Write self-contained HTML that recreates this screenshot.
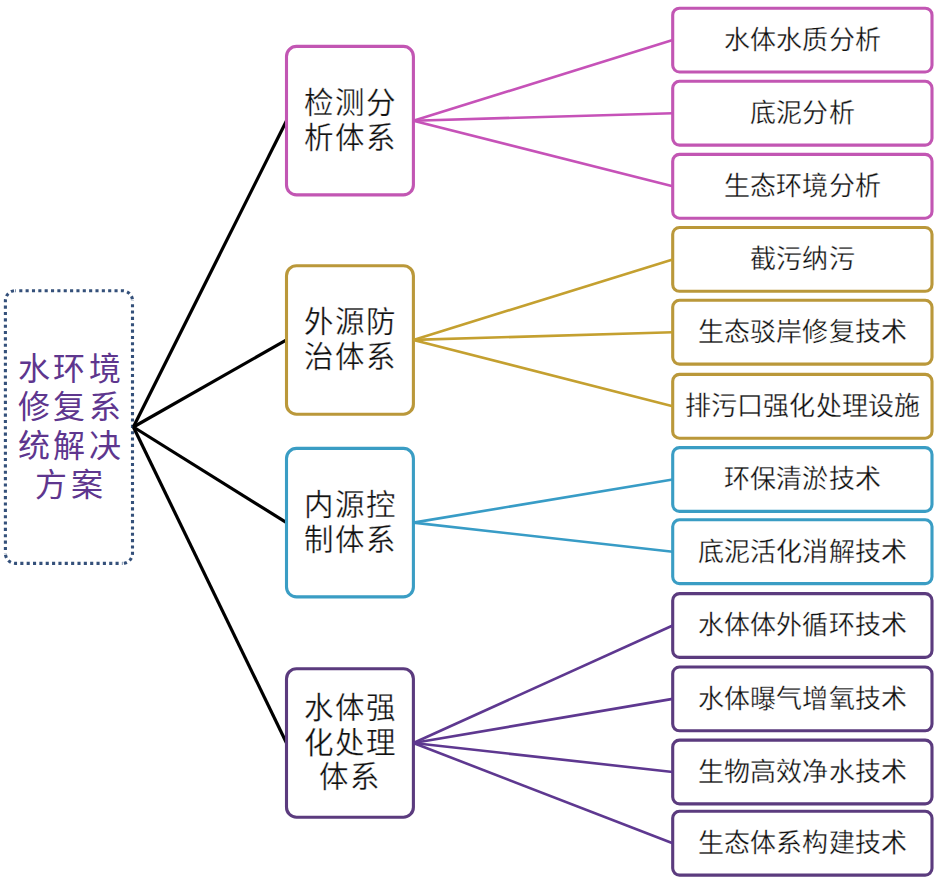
<!DOCTYPE html>
<html lang="zh-CN"><head><meta charset="utf-8"><title>水环境修复系统解决方案</title>
<style>
html,body{margin:0;padding:0;background:#fff;}
body{width:942px;height:882px;overflow:hidden;position:relative;font-family:"Liberation Sans",sans-serif;}
svg{position:absolute;left:0;top:0;}
.t{position:absolute;display:flex;align-items:center;justify-content:center;text-align:center;color:#111;-webkit-text-stroke:0.3px #fff;box-sizing:border-box;white-space:nowrap;}
.lt{-webkit-text-stroke:0;font-size:32px;line-height:38.6px;color:#5E368E;letter-spacing:3.5px;padding-left:3.5px;}
.mt{font-size:29.5px;line-height:34.8px;letter-spacing:1px;padding-left:1px;}
.rt{font-size:26px;line-height:30px;letter-spacing:0.2px;padding-left:0.2px;}
</style></head><body>
<svg width="942" height="882" viewBox="0 0 942 882">
<rect x="5.4" y="290.7" width="127.1" height="272.7" rx="10" fill="#fff"/>
<path d="M15.4,290.7H122.5A10 10 0 0 1 132.5,300.7" fill="none" stroke="#34507A" stroke-width="3.1" stroke-dasharray="3.1 3.25" stroke-dashoffset="2.5"/>
<path d="M132.5,300.7V553.4A10 10 0 0 1 122.5,563.4" fill="none" stroke="#34507A" stroke-width="3.1" stroke-dasharray="3.1 3.25" stroke-dashoffset="2.9"/>
<path d="M122.5,563.4H15.4A10 10 0 0 1 5.4,553.4" fill="none" stroke="#34507A" stroke-width="3.1" stroke-dasharray="3.1 3.25" stroke-dashoffset="2.5"/>
<path d="M5.4,553.4V300.7A10 10 0 0 1 15.4,290.7" fill="none" stroke="#34507A" stroke-width="3.1" stroke-dasharray="3.1 3.25" stroke-dashoffset="2.95"/>
<line x1="133.4" y1="427.0" x2="286.5" y2="120.7" stroke="#000" stroke-width="3.2"/>
<line x1="133.4" y1="427.0" x2="286.5" y2="339.9" stroke="#000" stroke-width="3.2"/>
<line x1="133.4" y1="427.0" x2="286.5" y2="522.6" stroke="#000" stroke-width="3.2"/>
<line x1="133.4" y1="427.0" x2="286.5" y2="743.0" stroke="#000" stroke-width="3.2"/>
<rect x="286.5" y="46.4" width="126.9" height="148.5" rx="10" fill="#fff" stroke="#C256B3" stroke-width="3.1"/>
<rect x="672.7" y="8.2" width="259.3" height="63.8" rx="6.8" fill="#fff" stroke="#C256B3" stroke-width="3.1"/>
<rect x="672.7" y="81.3" width="259.3" height="63.8" rx="6.8" fill="#fff" stroke="#C256B3" stroke-width="3.1"/>
<rect x="672.7" y="154.4" width="259.3" height="63.8" rx="6.8" fill="#fff" stroke="#C256B3" stroke-width="3.1"/>
<rect x="286.5" y="265.7" width="126.9" height="148.5" rx="10" fill="#fff" stroke="#BA983A" stroke-width="3.1"/>
<rect x="672.7" y="227.5" width="259.3" height="63.8" rx="6.8" fill="#fff" stroke="#BA983A" stroke-width="3.1"/>
<rect x="672.7" y="300.3" width="259.3" height="63.8" rx="6.8" fill="#fff" stroke="#BA983A" stroke-width="3.1"/>
<rect x="672.7" y="374.4" width="259.3" height="63.8" rx="6.8" fill="#fff" stroke="#BA983A" stroke-width="3.1"/>
<rect x="286.5" y="448.4" width="126.9" height="148.5" rx="10" fill="#fff" stroke="#3A9DC4" stroke-width="3.1"/>
<rect x="672.7" y="447.6" width="259.3" height="63.8" rx="6.8" fill="#fff" stroke="#3A9DC4" stroke-width="3.1"/>
<rect x="672.7" y="519.8" width="259.3" height="63.8" rx="6.8" fill="#fff" stroke="#3A9DC4" stroke-width="3.1"/>
<rect x="286.5" y="668.7" width="126.9" height="148.5" rx="10" fill="#fff" stroke="#5B3B7E" stroke-width="3.1"/>
<rect x="672.7" y="593.6" width="259.3" height="63.8" rx="6.8" fill="#fff" stroke="#5B3B7E" stroke-width="3.1"/>
<rect x="672.7" y="667.0" width="259.3" height="63.8" rx="6.8" fill="#fff" stroke="#5B3B7E" stroke-width="3.1"/>
<rect x="672.7" y="740.1" width="259.3" height="63.8" rx="6.8" fill="#fff" stroke="#5B3B7E" stroke-width="3.1"/>
<rect x="672.7" y="811.3" width="259.3" height="63.8" rx="6.8" fill="#fff" stroke="#5B3B7E" stroke-width="3.1"/>
<line x1="413.4" y1="120.7" x2="672.7" y2="40.1" stroke="#C652B8" stroke-width="2.6"/>
<line x1="413.4" y1="120.7" x2="672.7" y2="113.2" stroke="#C652B8" stroke-width="2.6"/>
<line x1="413.4" y1="120.7" x2="672.7" y2="186.3" stroke="#C652B8" stroke-width="2.6"/>
<line x1="413.4" y1="339.9" x2="672.7" y2="259.4" stroke="#C4A030" stroke-width="2.6"/>
<line x1="413.4" y1="339.9" x2="672.7" y2="332.2" stroke="#C4A030" stroke-width="2.6"/>
<line x1="413.4" y1="339.9" x2="672.7" y2="406.3" stroke="#C4A030" stroke-width="2.6"/>
<line x1="413.4" y1="522.6" x2="672.7" y2="479.5" stroke="#389CC6" stroke-width="2.6"/>
<line x1="413.4" y1="522.6" x2="672.7" y2="551.7" stroke="#389CC6" stroke-width="2.6"/>
<line x1="413.4" y1="743.0" x2="672.7" y2="625.5" stroke="#5E3890" stroke-width="2.6"/>
<line x1="413.4" y1="743.0" x2="672.7" y2="698.9" stroke="#5E3890" stroke-width="2.6"/>
<line x1="413.4" y1="743.0" x2="672.7" y2="772.0" stroke="#5E3890" stroke-width="2.6"/>
<line x1="413.4" y1="743.0" x2="672.7" y2="843.2" stroke="#5E3890" stroke-width="2.6"/>
</svg>
<div class="t lt" style="left:5px;top:290px;width:128px;height:274px">水环境<br>修复系<br>统解决<br>方案</div>
<div class="t mt" style="left:285.0px;top:44.9px;width:129.9px;height:151.5px">检测分<br>析体系</div>
<div class="t rt" style="left:671.2px;top:6.7px;width:262.3px;height:66.8px">水体水质分析</div>
<div class="t rt" style="left:671.2px;top:79.8px;width:262.3px;height:66.8px">底泥分析</div>
<div class="t rt" style="left:671.2px;top:152.9px;width:262.3px;height:66.8px">生态环境分析</div>
<div class="t mt" style="left:285.0px;top:264.2px;width:129.9px;height:151.5px">外源防<br>治体系</div>
<div class="t rt" style="left:671.2px;top:226.0px;width:262.3px;height:66.8px">截污纳污</div>
<div class="t rt" style="left:671.2px;top:298.8px;width:262.3px;height:66.8px">生态驳岸修复技术</div>
<div class="t rt" style="left:671.2px;top:372.9px;width:262.3px;height:66.8px">排污口强化处理设施</div>
<div class="t mt" style="left:285.0px;top:446.9px;width:129.9px;height:151.5px">内源控<br>制体系</div>
<div class="t rt" style="left:671.2px;top:446.1px;width:262.3px;height:66.8px">环保清淤技术</div>
<div class="t rt" style="left:671.2px;top:518.3px;width:262.3px;height:66.8px">底泥活化消解技术</div>
<div class="t mt" style="left:285.0px;top:667.2px;width:129.9px;height:151.5px">水体强<br>化处理<br>体系</div>
<div class="t rt" style="left:671.2px;top:592.1px;width:262.3px;height:66.8px">水体体外循环技术</div>
<div class="t rt" style="left:671.2px;top:665.5px;width:262.3px;height:66.8px">水体曝气增氧技术</div>
<div class="t rt" style="left:671.2px;top:738.6px;width:262.3px;height:66.8px">生物高效净水技术</div>
<div class="t rt" style="left:671.2px;top:809.8px;width:262.3px;height:66.8px">生态体系构建技术</div>
</body></html>
